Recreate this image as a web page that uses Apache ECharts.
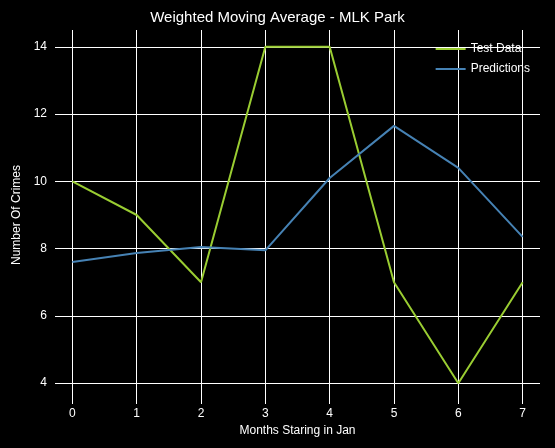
<!DOCTYPE html>
<html><head><meta charset="utf-8">
<script src="https://cdn.jsdelivr.net/npm/echarts@6/dist/echarts.min.js"></script>
<style>body{margin:0;background:#000}#main{width:555px;height:448px}</style>
</head><body><div id="main"></div>
<script>
var months = [0, 1, 2, 3, 4, 5, 6, 7];
var testData = [10, 9, 7, 14, 14, 7, 4, 7];
var predictions = [7.6, 7.87, 8.05, 7.95, 10.1, 11.65, 10.4, 8.35];
var yTicks = [4, 6, 8, 10, 12, 14];

var chart = echarts.init(document.getElementById('main'));
function pairs(v) { return months.map(function (m, i) { return [m, v[i]]; }); }
var txt = {color: '#fff', fontFamily: 'Liberation Sans', fontSize: 12};
chart.setOption({
    backgroundColor: '#000',
    animation: false,
    title: {text: 'Weighted Moving Average - MLK Park', left: 'center', top: 5,
        textStyle: {color: '#fff', fontFamily: 'Liberation Sans', fontSize: 15, fontWeight: 'normal'}},
    legend: {right: 20, top: 38, orient: 'vertical', itemWidth: 30, itemHeight: 2, itemGap: 8,
        icon: 'rect', textStyle: txt},
    grid: {left: 55, right: 15, top: 30, bottom: 48},
    xAxis: {type: 'value', min: -0.27, max: 7.27,
        name: 'Months Staring in Jan', nameLocation: 'middle', nameGap: 25, nameTextStyle: txt,
        axisLine: {show: false},
        axisTick: {show: true, customValues: months, length: 4, lineStyle: {color: '#fff'}},
        axisLabel: {customValues: months, color: '#fff', fontFamily: 'Liberation Sans'},
        splitLine: {show: true, lineStyle: {color: '#fff', width: 1}}},
    yAxis: {type: 'value', min: 3.5, max: 14.5,
        name: 'Number Of Crimes', nameLocation: 'middle', nameGap: 32, nameTextStyle: txt,
        axisLine: {show: false},
        axisTick: {show: true, customValues: yTicks, length: 4, lineStyle: {color: '#fff'}},
        axisLabel: {customValues: yTicks, color: '#fff', fontFamily: 'Liberation Sans'},
        splitLine: {show: true, lineStyle: {color: '#fff', width: 1}}},
    series: [
        {name: 'Test Data', type: 'line', data: pairs(testData), showSymbol: false,
            color: '#9acd32', lineStyle: {width: 2}},
        {name: 'Predictions', type: 'line', data: pairs(predictions), showSymbol: false,
            color: '#4682b4', lineStyle: {width: 2}}
    ]
});
</script></body></html>
